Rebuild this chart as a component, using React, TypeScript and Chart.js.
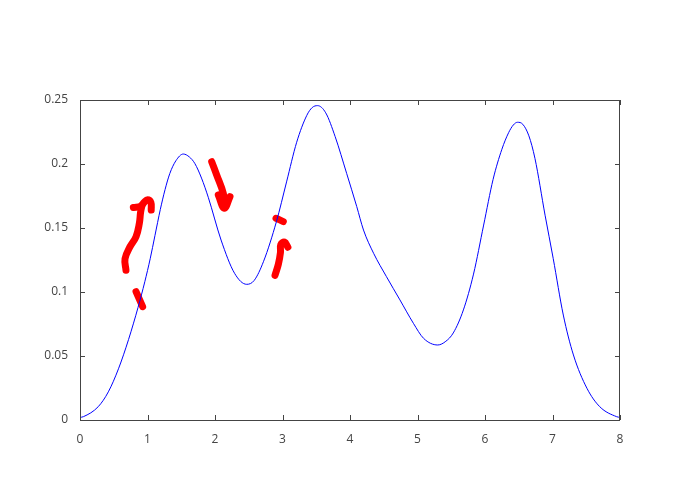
import React, { useEffect, useRef } from "react";
import { Chart, registerables } from "chart.js";

Chart.register(...registerables);

// Density curve (blue)
const curveX = [0, 0.05, 0.27, 0.42, 0.57, 0.72, 0.86, 0.96, 1.04, 1.11, 1.19, 1.26, 1.33, 1.42, 1.53, 1.62, 1.7, 1.8, 1.9, 2.09, 2.29, 2.47, 2.58, 2.72, 2.91, 3.06, 3.21, 3.36, 3.44, 3.52, 3.64, 3.78, 3.95, 4.1, 4.2, 4.35, 4.54, 4.74, 4.94, 5.09, 5.3, 5.42, 5.53, 5.68, 5.83, 5.98, 6.12, 6.25, 6.35, 6.42, 6.48, 6.56, 6.65, 6.74, 6.89, 7.01, 7.16, 7.31, 7.51, 7.7, 7.95, 8.0];
const curveY = [0.002, 0.0026, 0.0104, 0.022, 0.04, 0.063, 0.088, 0.108, 0.126, 0.144, 0.1645, 0.18, 0.1925, 0.2025, 0.2078, 0.2055, 0.2005, 0.189, 0.174, 0.1406, 0.1146, 0.106, 0.109, 0.124, 0.155, 0.186, 0.217, 0.238, 0.2441, 0.2456, 0.24, 0.2214, 0.1927, 0.1667, 0.1484, 0.1302, 0.112, 0.0938, 0.0755, 0.0638, 0.0586, 0.0615, 0.068, 0.086, 0.114, 0.1523, 0.188, 0.2115, 0.2245, 0.2305, 0.2326, 0.231, 0.222, 0.2044, 0.16, 0.1263, 0.082, 0.0508, 0.0248, 0.0104, 0.0026, 0.002];

// Red hand-drawn annotation strokes
const strokeA1X = [0.681, 0.667, 0.741, 0.83, 0.879, 0.899, 0.92];
const strokeA1Y = [0.117, 0.126, 0.1354, 0.1432, 0.1536, 0.1628, 0.168];
const strokeA2X = [0.79, 0.9, 0.95, 1.0, 1.05, 1.055];
const strokeA2Y = [0.166, 0.167, 0.17, 0.172, 0.17, 0.164];
const strokeBX = [0.83, 0.928];
const strokeBY = [0.1003, 0.0885];
const arrowShaftX = [1.951, 2.025, 2.123, 2.148];
const arrowShaftY = [0.2018, 0.1914, 0.1771, 0.1667];
const arrowHeadX = [2.049, 2.138, 2.222];
const arrowHeadY = [0.1758, 0.1654, 0.1745];
const strokeCX = [2.904, 3.012];
const strokeCY = [0.1576, 0.155];
const strokeDX = [2.889, 2.94, 2.97, 2.975, 3.03, 3.08];
const strokeDY = [0.113, 0.122, 0.131, 0.137, 0.139, 0.135];

const xTicks = [0, 1, 2, 3, 4, 5, 6, 7, 8];
const yTicks = [0, 0.05, 0.1, 0.15, 0.2, 0.25];

const zip = (xs: number[], ys: number[]) => xs.map((x, i) => ({ x, y: ys[i] }));

const redStrokes = [
  [strokeA1X, strokeA1Y],
  [strokeA2X, strokeA2Y],
  [strokeBX, strokeBY],
  [arrowShaftX, arrowShaftY],
  [arrowHeadX, arrowHeadY],
  [strokeCX, strokeCY],
  [strokeDX, strokeDY],
];

const boxTicksPlugin = {
  id: "boxTicks",
  afterDatasetsDraw(chart: any) {
    const { ctx, chartArea, scales } = chart;
    const { left, right, top, bottom } = chartArea;
    ctx.save();
    ctx.strokeStyle = "#444";
    ctx.lineWidth = 1;
    ctx.beginPath();
    ctx.rect(left + 0.5, top + 0.5, right - left - 1, bottom - top);
    ctx.stroke();
    const len = 5;
    ctx.beginPath();
    xTicks.forEach((v) => {
      const px = Math.round(scales.x.getPixelForValue(v)) + 0.5;
      ctx.moveTo(px, bottom);
      ctx.lineTo(px, bottom - len);
      ctx.moveTo(px, top);
      ctx.lineTo(px, top + len);
    });
    yTicks.forEach((v) => {
      const py = Math.round(scales.y.getPixelForValue(v)) + 0.5;
      ctx.moveTo(left, py);
      ctx.lineTo(left + len, py);
      ctx.moveTo(right, py);
      ctx.lineTo(right - len, py);
    });
    ctx.stroke();
    ctx.restore();
  },
};

export default function App() {
  const ref = useRef<HTMLCanvasElement>(null);
  useEffect(() => {
    if (!ref.current) return;
    const datasets: any[] = [
      {
        data: zip(curveX, curveY),
        borderColor: "#0000ff",
        borderWidth: 1,
        pointRadius: 0,
        cubicInterpolationMode: "monotone",
        fill: false,
      },
      ...redStrokes.map(([xs, ys]) => ({
        data: zip(xs, ys),
        borderColor: "#ff0000",
        borderWidth: 7,
        pointRadius: 0,
        tension: 0.4,
        borderCapStyle: "round",
        borderJoinStyle: "round",
        fill: false,
      })),
    ];
    const chart = new Chart(ref.current, {
      type: "line",
      data: { datasets },
      plugins: [boxTicksPlugin],
      options: {
        animation: false,
        responsive: false,
        layout: { padding: { left: 0, top: 100, right: 80, bottom: 0 } },
        plugins: { legend: { display: false }, tooltip: { enabled: false } },
        scales: {
          x: {
            type: "linear",
            min: 0,
            max: 8,
            grid: { display: false },
            border: { display: false },
            afterBuildTicks: (s: any) => {
              s.ticks = xTicks.map((v) => ({ value: v }));
            },
            afterFit: (s: any) => {
              s.height = 80;
            },
            ticks: {
              color: "#444",
              font: { family: "'Open Sans'", size: 12 },
              padding: 4,
              maxRotation: 0,
              callback: (v: any) => String(v),
            },
          },
          y: {
            type: "linear",
            min: 0,
            max: 0.25,
            grid: { display: false },
            border: { display: false },
            afterBuildTicks: (s: any) => {
              s.ticks = yTicks.map((v) => ({ value: v }));
            },
            afterFit: (s: any) => {
              s.width = 80;
            },
            ticks: {
              color: "#444",
              font: { family: "'Open Sans'", size: 12 },
              padding: 4,
              callback: (v: any) => String(v),
            },
          },
        },
      },
    });
    return () => chart.destroy();
  }, []);
  return (
    <div style={{ position: "absolute", left: 0, top: 0, width: 700, height: 500, background: "#fff" }}>
      <canvas ref={ref} width={700} height={500} />
    </div>
  );
}
